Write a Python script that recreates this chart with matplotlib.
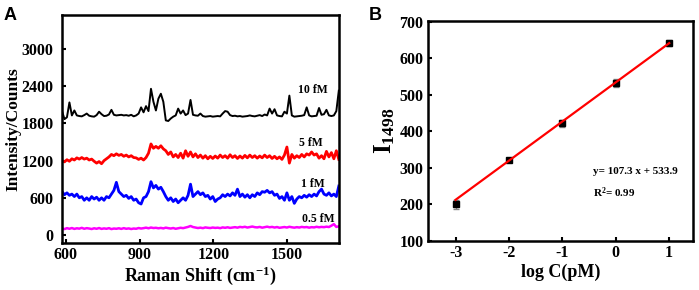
import numpy as np
import matplotlib

matplotlib.use("Agg")
import matplotlib.pyplot as plt

plt.rcParams["font.family"] = ["Liberation Serif", "DejaVu Serif"]
plt.rcParams["font.weight"] = "bold"
plt.rcParams["axes.labelweight"] = "bold"
plt.rcParams["axes.unicode_minus"] = False
plt.rcParams["mathtext.fontset"] = "custom"
plt.rcParams["mathtext.rm"] = "Liberation Serif:bold"
plt.rcParams["mathtext.bf"] = "Liberation Serif:bold"
plt.rcParams["mathtext.it"] = "Liberation Serif:bold"

# ---- panel A: SERS spectra (Raman shift grid 585..1710 cm-1) ----
shift = np.linspace(585, 1710, 113)

spec_10fM = [
    2000, 1870, 1900, 2140, 1930, 2010, 1930, 1920, 1915, 1935,
    1960, 1925, 1915, 1910, 1935, 1990, 1950, 1920, 1925, 1945,
    2020, 1940, 1930, 1935, 1940, 1930, 1935, 1925, 1940, 1915,
    1930, 1960, 2060, 1980, 2080, 2000, 2360, 2150, 2010, 2200,
    2280, 2150, 1850, 1840, 1880, 1910, 1930, 2040, 1960, 2010,
    1935, 1960, 2180, 1940, 1930, 1925, 1960, 1920, 1910, 1915,
    1920, 1910, 1915, 1920, 1915, 1960, 2000, 1990, 1935, 1920,
    1925, 1915, 1920, 1910, 1915, 1920, 1930, 1920, 1915, 1925,
    1935, 1920, 1945, 1930, 2040, 1960, 2030, 1930, 1920, 1915,
    1990, 1960, 2250, 1930, 1910, 1915, 1920, 1925, 1935, 2060,
    1930, 1915, 1920, 1925, 2050, 1940, 1950, 2020, 1930, 1920,
    1930, 2000, 2330,
]
spec_5fM = [
    1200, 1180, 1215, 1190, 1230, 1210, 1245, 1225, 1250, 1225,
    1240, 1210, 1225, 1190, 1160, 1185, 1150, 1200, 1230, 1260,
    1300, 1280, 1310, 1285, 1300, 1270, 1290, 1260, 1280, 1250,
    1245, 1220, 1240, 1210, 1250, 1320, 1470, 1400, 1430, 1400,
    1440, 1390, 1360, 1300, 1340, 1260, 1300, 1250, 1320, 1240,
    1360, 1270, 1340, 1260, 1310, 1250, 1290, 1240, 1280, 1230,
    1270, 1235, 1275, 1240, 1290, 1250, 1280, 1240, 1295, 1250,
    1280, 1235, 1275, 1240, 1285, 1245, 1290, 1250, 1280, 1240,
    1275, 1245, 1290, 1250, 1280, 1235, 1270, 1230, 1260, 1220,
    1290, 1420, 1160, 1300, 1240, 1280, 1250, 1300, 1260, 1310,
    1290, 1340, 1290, 1310, 1240, 1280, 1230, 1350, 1260, 1330,
    1230, 1360, 1220,
]
spec_1fM = [
    700, 650, 680, 640, 660, 620, 660, 600, 620, 560,
    600, 560, 620, 580, 610, 560, 600, 560, 620, 600,
    660, 720, 850, 700, 660, 620, 640, 590, 620, 560,
    580, 520, 500, 600, 620, 700, 860, 760, 800, 740,
    770, 700, 620, 560, 600, 540, 580, 520, 560, 600,
    560, 640, 820, 620, 660, 700, 650, 680, 620, 640,
    580, 620, 540, 580, 600, 650, 620, 660, 630, 680,
    640, 740, 620, 660, 610, 650, 600, 650, 620, 680,
    650, 700, 690, 720, 680, 700, 640, 660, 590, 620,
    560, 680, 560, 620, 510, 580, 620, 600, 640, 610,
    650, 620, 660, 630, 700, 740, 660, 640, 680, 630,
    660, 620, 790,
]
spec_05fM = [
    105, 95, 110, 100, 112, 98, 108, 102, 115, 100,
    110, 104, 96, 108, 100, 112, 98, 106, 100, 110,
    95, 104, 100, 108, 98, 110, 100, 106, 96, 104,
    100, 112, 104, 110, 118, 108, 120, 112, 116, 108,
    114, 106, 118, 110, 104, 112, 100, 108, 116, 110,
    120, 130, 145, 128, 120, 112, 118, 110, 122, 116,
    112, 120, 114, 118, 110, 122, 116, 124, 114, 120,
    126, 118, 130, 124, 132, 120, 128, 136, 126, 122,
    130, 118, 126, 134, 124, 130, 120, 128, 116, 122,
    128, 120, 132, 124, 118, 126, 120, 130, 124, 128,
    118, 126, 122, 132, 124, 130, 126, 134, 128, 150,
    175, 130, 140,
]
spec_labels = ["10 fM", "5 fM", "1 fM", "0.5 fM"]
label_pos = [(1605, 2340), (1598, 1478), (1605, 822), (1626, 253)]

# ---- panel B: calibration ----
log_c = [-3, -2, -1, 0, 1]
i1498 = [200, 320, 422, 532, 641]
i1498_err = [12, 5, 10, 12, 8]
slope, intercept = 107.3, 533.9

fig = plt.figure(figsize=(6.99, 2.9), dpi=100)
axA = fig.add_axes([0.0887, 0.162, 0.396, 0.786])
axB = fig.add_axes([0.612, 0.170, 0.379, 0.759])

series = [(spec_10fM, "black", 1.4), (spec_5fM, "#ff0000", 2.0),
          (spec_1fM, "#0000ff", 2.0), (spec_05fM, "#ff00ff", 1.8)]
for (vals, col, lw), lab, (lx, ly) in zip(series, spec_labels, label_pos):
    axA.plot(shift, vals, color=col, lw=lw)
    axA.text(lx, ly, lab, fontsize=8.5, ha="center", va="center")

axA.set_xlim(585, 1710)
axA.set_ylim(-130, 3550)
axA.set_xticks([600, 900, 1200, 1500])
axA.set_yticks([0, 600, 1200, 1800, 2400, 3000])
axA.set_xlabel("Raman Shift (cm$^{-1}$)", fontsize=13, labelpad=1)
axA.set_ylabel("Intensity/Counts", fontsize=12.5, labelpad=0)

xfit = np.array([log_c[0], log_c[-1]])
axB.errorbar(log_c, i1498, yerr=i1498_err, fmt="s", color="black", ms=5,
             ecolor="#888888", elinewidth=1, capsize=2, zorder=3)
axB.plot(xfit, slope * xfit + intercept, color="#ff0000", lw=1.6, zorder=4)
axB.text(-0.43, 290, "y= 107.3 x + 533.9", fontsize=8, va="center")
axB.text(-0.43, 232, "R$^2$= 0.99", fontsize=8, va="center")
axB.set_xlim(-3.52, 1.44)
axB.set_ylim(100, 703)
axB.set_xticks(log_c)
axB.set_yticks([100, 200, 300, 400, 500, 600, 700])
axB.set_xlabel("log C(pM)", fontsize=13, labelpad=2)
axB.set_ylabel("I$_{1498}$", fontsize=18, labelpad=2)

for ax in (axA, axB):
    for sp in ax.spines.values():
        sp.set_linewidth(1.8)
    ax.tick_params(direction="in", length=3, width=1.5, labelsize=11.5, pad=3)
    for t in ax.get_xticklabels() + ax.get_yticklabels():
        t.set_fontweight("bold")
axA.tick_params(axis="y", pad=6)

fig.text(0.005, 0.975, "A", fontsize=13, fontweight="bold", family="Liberation Sans", va="top")
fig.text(0.528, 0.975, "B", fontsize=13, fontweight="bold", family="Liberation Sans", va="top")

fig.savefig("out.png", dpi=100)
